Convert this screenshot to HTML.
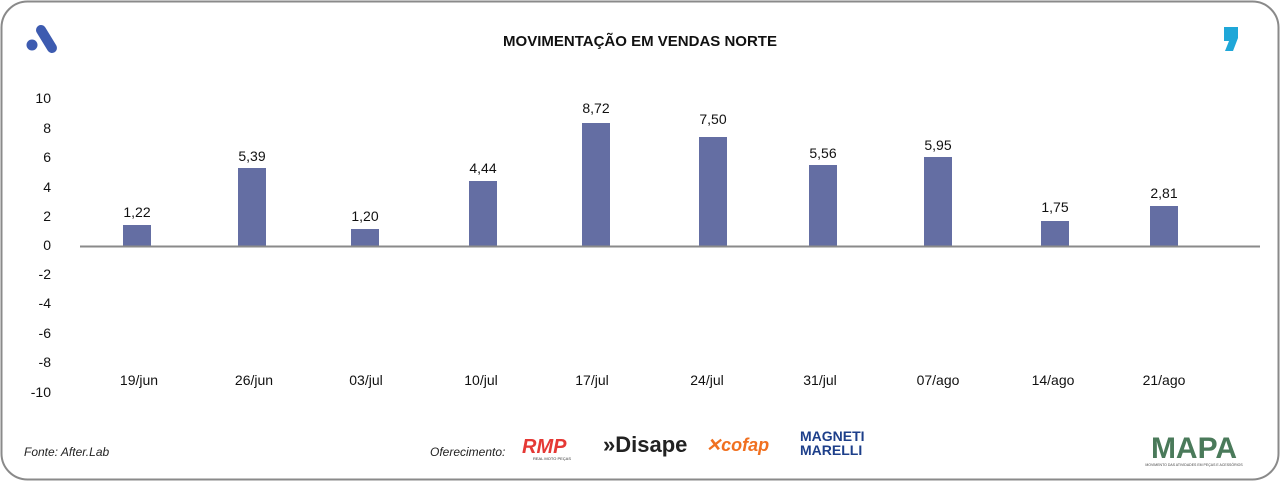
<!DOCTYPE html>
<html><head><meta charset="utf-8"><style>
body{margin:0;width:1280px;height:482px;background:#fff;font-family:"Liberation Sans",sans-serif;overflow:hidden}
</style></head><body>
<svg width="1280" height="482" xmlns="http://www.w3.org/2000/svg" font-family="Liberation Sans, sans-serif">
<rect x="1.5" y="1.5" width="1277" height="478" rx="26" fill="#fff" stroke="#8a8a8a" stroke-width="2"/>
<!-- left logo -->
<line x1="41" y1="30" x2="52" y2="48" stroke="#3d5bb0" stroke-width="10" stroke-linecap="round"/>
<circle cx="32" cy="45" r="5.5" fill="#3d5bb0"/>
<!-- right logo -->
<path d="M1224 27 h14 v11 l-5 13 h-8 l4 -10 h-5 z" fill="#1fa7d8"/>
<text x="640" y="46" text-anchor="middle" font-size="15" font-weight="bold" fill="#111">MOVIMENTAÇÃO EM VENDAS NORTE</text>
<g font-size="14" fill="#111" text-anchor="end">
<text x="51" y="103">10</text><text x="51" y="133">8</text><text x="51" y="162">6</text><text x="51" y="192">4</text><text x="51" y="221">2</text><text x="51" y="250">0</text><text x="51" y="279">-2</text><text x="51" y="308">-4</text><text x="51" y="338">-6</text><text x="51" y="367">-8</text><text x="51" y="397">-10</text>
</g>
<g fill="#646ea3">
<rect x="123" y="225" width="28" height="21"/>
<rect x="238" y="168" width="28" height="78"/>
<rect x="351" y="229" width="28" height="17"/>
<rect x="469" y="181" width="28" height="65"/>
<rect x="582" y="123" width="28" height="123"/>
<rect x="699" y="137" width="28" height="109"/>
<rect x="809" y="165" width="28" height="81"/>
<rect x="924" y="157" width="28" height="89"/>
<rect x="1041" y="221" width="28" height="25"/>
<rect x="1150" y="206" width="28" height="40"/>
</g>
<line x1="80" y1="246.5" x2="1260" y2="246.5" stroke="#8a8a8a" stroke-width="2"/>
<g font-size="14" fill="#111" text-anchor="middle">
<text x="137" y="217">1,22</text><text x="252" y="161">5,39</text><text x="365" y="221">1,20</text><text x="483" y="173">4,44</text><text x="596" y="113">8,72</text><text x="713" y="124">7,50</text><text x="823" y="158">5,56</text><text x="938" y="150">5,95</text><text x="1055" y="212">1,75</text><text x="1164" y="198">2,81</text>
<text x="139" y="385">19/jun</text><text x="254" y="385">26/jun</text><text x="366" y="385">03/jul</text><text x="481" y="385">10/jul</text><text x="592" y="385">17/jul</text><text x="707" y="385">24/jul</text><text x="820" y="385">31/jul</text><text x="938" y="385">07/ago</text><text x="1053" y="385">14/ago</text><text x="1164" y="385">21/ago</text>
</g>
<text x="24" y="456" font-size="12" font-style="italic" fill="#222">Fonte: After.Lab</text>
<text x="430" y="456" font-size="12" font-style="italic" fill="#222">Oferecimento:</text>
<text x="522" y="453" font-size="20" font-weight="bold" font-style="italic" fill="#e53935">RMP</text>
<text x="533" y="460" font-size="4" fill="#333">REAL MOTO PEÇAS</text>
<text x="603" y="452" font-size="22" font-weight="bold" fill="#222">»Disape</text>
<text x="706" y="451" font-size="18" font-weight="bold" font-style="italic" fill="#f07020">✕cofap</text>
<text x="800" y="441" font-size="14" font-weight="bold" fill="#1d3f8a">MAGNETI</text>
<text x="800" y="455" font-size="14" font-weight="bold" fill="#1d3f8a">MARELLI</text>
<text x="1194" y="458" text-anchor="middle" font-size="30" font-weight="bold" fill="#4a7a5a">MAPA</text>
<text x="1194" y="466" text-anchor="middle" font-size="3.5" fill="#444">MOVIMENTO DAS ATIVIDADES EM PEÇAS E ACESSÓRIOS</text>
</svg>
</body></html>
